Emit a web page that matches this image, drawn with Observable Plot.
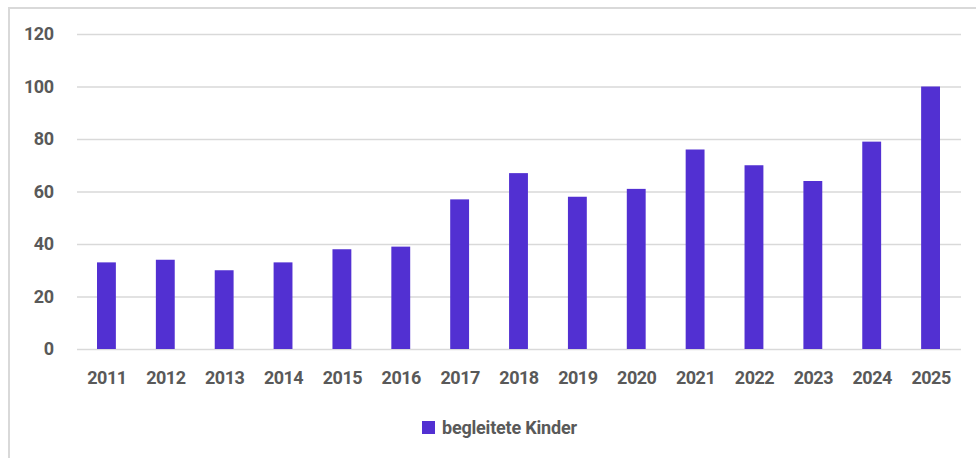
<!DOCTYPE html>
<html>
<head>
<meta charset="utf-8">
<script src="https://cdn.jsdelivr.net/npm/d3@7"></script>
<script src="https://cdn.jsdelivr.net/npm/@observablehq/plot@0.6"></script>
<style>
  html, body { margin: 0; padding: 0; background: #fff; }
  #wrap { position: relative; width: 976px; height: 458px; overflow: hidden; font-family: "Roboto", sans-serif; }
  #frame { position: absolute; left: 8px; top: 7px; right: -20px; bottom: -20px; border-top: 2px solid #d9d9d9; border-left: 2px solid #d9d9d9; }
  #chart { position: absolute; left: 0; top: 0; }
  #chart text { letter-spacing: -0.5px; }
  #legend { position: absolute; left: 422px; top: 417px; display: flex; align-items: center; gap: 7px; font-weight: bold; font-size: 18px; color: #595959; letter-spacing: -0.2px; }
  #legend .sw { width: 13px; height: 13px; background: #5230d2; }
</style>
</head>
<body>
<div id="wrap">
  <div id="frame"></div>
  <div id="chart"></div>
  <div id="legend"><span class="sw"></span><span>begleitete Kinder</span></div>
</div>
<script>
const years = ["2011","2012","2013","2014","2015","2016","2017","2018","2019","2020","2021","2022","2023","2024","2025"];
const values = [33, 34, 30, 33, 38, 39, 57, 67, 58, 61, 76, 70, 64, 79, 100];
const yTicks = [0, 20, 40, 60, 80, 100, 120];
const seriesName = "begleitete Kinder";
const barColor = "#5230d2";

const data = years.map((y, i) => ({year: y, value: values[i], series: seriesName}));

const chart = Plot.plot({
  width: 976,
  height: 400,
  marginLeft: 77,
  marginRight: 15,
  marginTop: 34,
  marginBottom: 51,
  style: { fontFamily: '"Roboto", sans-serif', fontSize: "18px", fontWeight: "bold", color: "#595959", background: "transparent", overflow: "visible" },
  x: { type: "band", domain: years, range: [77, 960], paddingInner: 0, paddingOuter: 0, align: 0.5, round: false, label: null },
  y: { domain: [0, 120], label: null },
  marks: [
    Plot.ruleY(yTicks, { stroke: "#d9d9d9", strokeWidth: 1.5 }),
    Plot.barY(data, { x: "year", y: "value", fill: barColor, insetLeft: 20, insetRight: 20 }),
    Plot.axisX({ tickSize: 0, tickPadding: 22, fill: "#595959", fontWeight: "bold", fontSize: 18 }),
    Plot.axisY({ ticks: yTicks, tickSize: 0, tickPadding: 24, fill: "#595959", fontWeight: "bold", fontSize: 18 })
  ]
});
document.getElementById("chart").appendChild(chart);
</script>
</body>
</html>
